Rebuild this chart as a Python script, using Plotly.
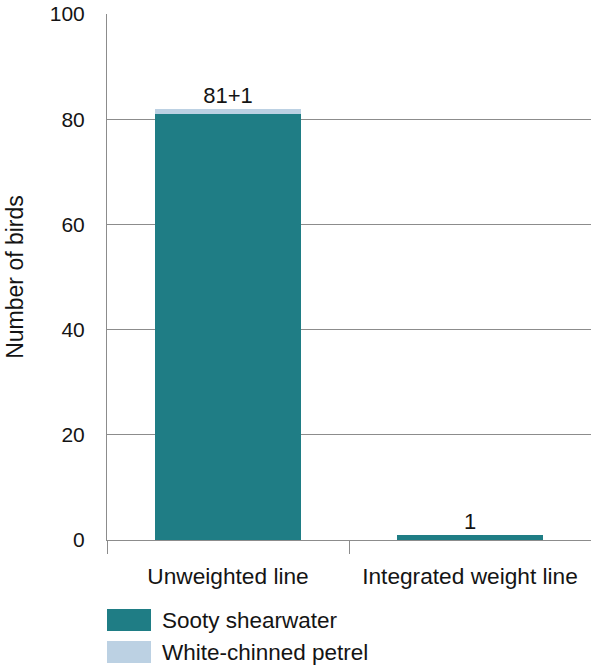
import plotly.graph_objects as go

categories = ["Unweighted line", "Integrated weight line"]
sooty_shearwater = [81, 1]
white_chinned_petrel = [1, 0]
bar_labels = ["81+1", "1"]
legend_names = ["Sooty shearwater", "White-chinned petrel"]

COLORS = {
    "teal": "rgb(31, 125, 133)",
    "light_blue": "rgb(188, 209, 227)",
    "grid": "rgb(140, 140, 140)",
    "text": "rgb(20, 20, 20)",
}
FONT = "Liberation Sans, Arial, sans-serif"

# plot area in pixels (for placing the bottom legend)
L, R, T, B = 107, 591, 14, 540


def paper_x(px):
    return (px - L) / (R - L)


def paper_y(py):
    return (B - py) / (B - T)


fig = go.Figure()
fig.add_trace(
    go.Bar(
        x=categories,
        y=sooty_shearwater,
        name=legend_names[0],
        marker={"color": COLORS["teal"], "line": {"width": 0}},
        width=0.6,
    )
)
fig.add_trace(
    go.Bar(
        x=categories,
        y=white_chinned_petrel,
        name=legend_names[1],
        marker={"color": COLORS["light_blue"], "line": {"width": 0}},
        width=0.6,
    )
)
totals = [a + b for a, b in zip(sooty_shearwater, white_chinned_petrel)]
fig.add_trace(
    go.Scatter(
        x=categories,
        y=totals,
        mode="text",
        text=bar_labels,
        textposition="top center",
        textfont={"size": 22, "color": COLORS["text"], "family": FONT},
        cliponaxis=False,
        hoverinfo="skip",
    )
)

# legend drawn below the chart with large swatches
swatch_colors = [COLORS["teal"], COLORS["light_blue"]]
for i, (name, color) in enumerate(zip(legend_names, swatch_colors)):
    top = 609 + i * 32
    fig.add_shape(
        type="rect",
        xref="paper",
        yref="paper",
        x0=paper_x(107),
        x1=paper_x(151),
        y0=paper_y(top),
        y1=paper_y(top + 22),
        fillcolor=color,
        line={"width": 0},
    )
    fig.add_annotation(
        xref="paper",
        yref="paper",
        x=paper_x(160),
        y=paper_y(top + 11),
        text=name,
        showarrow=False,
        xanchor="left",
        yanchor="middle",
        font={"size": 22.5, "color": COLORS["text"], "family": FONT},
    )

fig.update_layout(
    width=591,
    height=668,
    barmode="stack",
    bargap=0.4,
    showlegend=False,
    paper_bgcolor="white",
    plot_bgcolor="white",
    margin={"l": L, "r": 591 - R, "t": T, "b": 668 - B, "autoexpand": False},
    font={"family": FONT, "color": COLORS["text"], "size": 20},
    xaxis=go.layout.XAxis(
        automargin=False,
        showline=True,
        linecolor=COLORS["grid"],
        linewidth=1,
        ticks="outside",
        tickson="boundaries",
        ticklen=13,
        tickcolor=COLORS["grid"],
        tickfont={"size": 22.7},
        ticklabelstandoff=16,
        showgrid=False,
    ),
    yaxis=go.layout.YAxis(
        automargin=False,
        range=[0, 100],
        tickvals=[0, 20, 40, 60, 80, 100],
        showline=True,
        linecolor=COLORS["grid"],
        linewidth=1,
        gridcolor=COLORS["grid"],
        gridwidth=1,
        zeroline=False,
        ticks="",
        tickfont={"size": 21},
        ticklabelstandoff=17,
        title={"text": "Number of birds", "font": {"size": 23}, "standoff": 19},
    ),
)

fig.write_html(
    "out.html",
    config={"displayModeBar": False},
    post_script="document.body.style.margin = '0';",
)
